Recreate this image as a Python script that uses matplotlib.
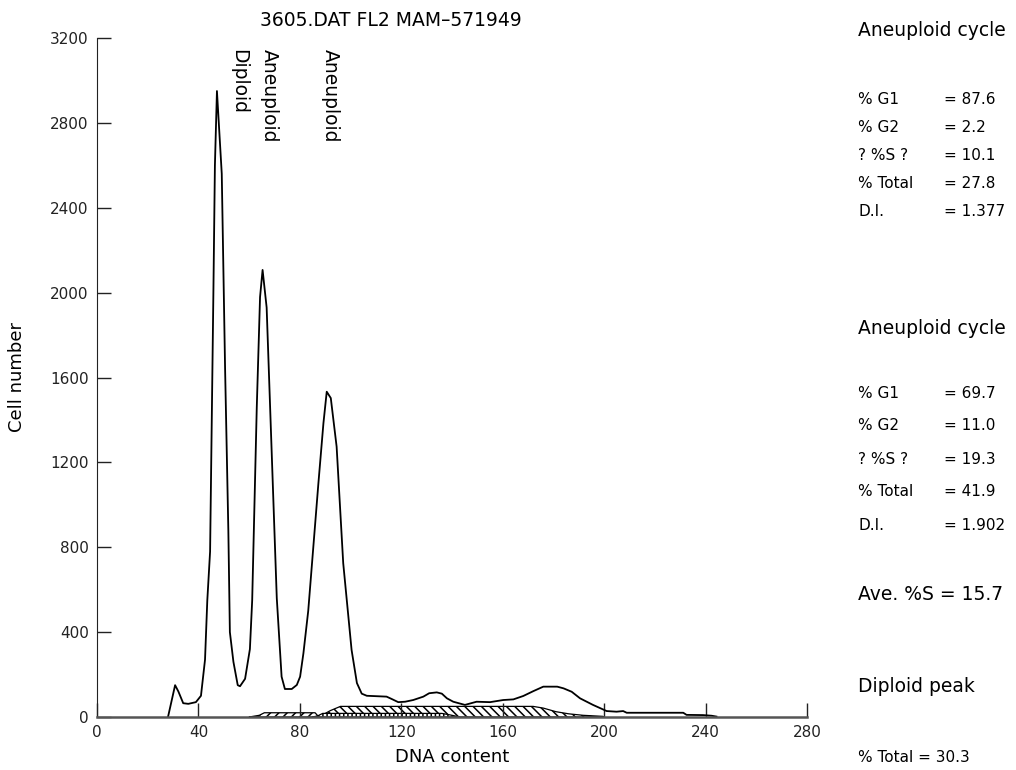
import numpy as np
import matplotlib.pyplot as plt

# histogramme ADN
dna_x = [28.0, 30.8, 32.1, 34.0, 36.0, 39.0, 41.0, 42.6, 43.5, 44.6, 45.9, 46.5, 47.3,
         49.2, 50.5, 51.8, 52.4, 53.8, 55.5, 56.4, 58.4, 60.3, 61.2, 63.0, 64.3, 65.3,
         66.9, 70.9, 72.8, 74.1, 76.8, 78.8, 80.1, 81.4, 83.3, 87.3, 89.3, 90.6, 92.2,
         94.5, 97.1, 100.4, 102.5, 104.4, 106.4, 114.2, 116.2, 118.8, 121.5, 124.7, 128.7,
         131.0, 134.0, 136.0, 138.0, 140.5, 145.1, 149.7, 155.0, 160.2, 164.2, 168.1, 172.1,
         176.0, 181.5, 184.0, 187.2, 190.5, 195.6, 199.7, 201.0, 204.9, 207.5, 208.9, 231.2,
         232.5, 239.0, 242.4, 244.3]
cell_n = [0, 150, 120, 65, 62, 70, 100, 270, 550, 780, 2000, 2600, 2950,
          2560, 1650, 877, 400, 260, 150, 145, 180, 320, 550, 1456, 1979, 2107,
          1930, 560, 190, 132, 132, 151, 190, 300, 500, 1100, 1385, 1533, 1503,
          1274, 725, 316, 160, 110, 100, 96, 85, 70, 72, 80, 96,
          112, 116, 110, 88, 72, 57, 72, 70, 80, 83, 99, 122,
          143, 143, 135, 119, 88, 57, 35, 28, 25, 28, 20, 20,
          10, 9, 6, 2]

# composantes hachurées
s1_x = [60, 62, 64, 66, 86, 87.5]
s1_y = [0, 4, 8, 20, 20, 0]
s2_x = [86, 89, 92, 96, 172, 176, 181, 186, 191.7, 199.5, 200]
s2_y = [0, 10, 30, 50, 50, 42, 25, 15, 8, 3, 0]
s3_x = [85, 87, 89, 136, 140, 143]
s3_y = [0, 5, 17, 17, 8, 0]

peak_labels = ["Diploid", "Aneuploid", "Aneuploid"]
peak_pos = [56, 68, 92]

x_ticks = [0, 40, 80, 120, 160, 200, 240, 280]
y_ticks = [0, 400, 800, 1200, 1600, 2000, 2400, 2800, 3200]

block1 = [("% G1", "= 87.6"), ("% G2", "= 2.2"), ("? %S ?", "= 10.1"),
          ("% Total", "= 27.8"), ("D.I.", "= 1.377")]
block2 = [("% G1", "= 69.7"), ("% G2", "= 11.0"), ("? %S ?", "= 19.3"),
          ("% Total", "= 41.9"), ("D.I.", "= 1.902")]

plt.rcParams['font.family'] = 'DejaVu Sans'
plt.rcParams['hatch.linewidth'] = 1.1

fig = plt.figure(figsize=(10.16, 7.7), dpi=100)
ax = fig.add_axes([97/1016, 53/770, 710/1016, 679/770])

ax.fill_between(s2_x, s2_y, color='white', hatch='\\\\\\\\', edgecolor='black', lw=0.9)
ax.fill_between(s1_x, s1_y, color='white', hatch='////', edgecolor='black', lw=0.9)
ax.fill_between(s3_x, s3_y, color='white', hatch='||||', edgecolor='black', lw=0.9)
ax.plot(dna_x, cell_n, color='black', lw=1.3)

for lab, xp in zip(peak_labels, peak_pos):
    ax.text(xp, 3150, lab, rotation=270, ha='center', va='top', fontsize=13.5)

ax.set_xlim(0, 280)
ax.set_ylim(0, 3200)
ax.set_xticks(x_ticks)
ax.set_yticks(y_ticks)
ax.tick_params(direction='in', length=10, width=1, labelsize=11, pad=6, colors='#222222')
ax.spines['top'].set_visible(False)
ax.spines['right'].set_visible(False)
ax.spines['left'].set_color('#222222')
ax.spines['bottom'].set_color('#555555')
ax.spines['bottom'].set_linewidth(1.8)
ax.set_xlabel("DNA content", fontsize=13)
ax.set_ylabel("Cell number", fontsize=13)
ax.xaxis.set_label_coords(0.5, -0.045)
ax.yaxis.set_label_coords(-0.1, 0.5)

fig.text(391/1016, 1 - 20/770, "3605.DAT FL2 MAM\u2013571949", ha='center', va='center', fontsize=13.5)

# texte à droite
xl, xv = 858/1016, 944/1016
def fy(py):
    return 1 - py/770

fig.text(xl, fy(30), "Aneuploid cycle", fontsize=13.5, va='center')
for (a, b), py in zip(block1, [99, 127, 156, 184, 212]):
    fig.text(xl, fy(py), a, fontsize=11, va='center')
    fig.text(xv, fy(py), b, fontsize=11, va='center')
fig.text(xl, fy(329), "Aneuploid cycle", fontsize=13.5, va='center')
for (a, b), py in zip(block2, [393, 425, 459, 492, 525]):
    fig.text(xl, fy(py), a, fontsize=11, va='center')
    fig.text(xv, fy(py), b, fontsize=11, va='center')
fig.text(xl, fy(595), "Ave. %S = 15.7", fontsize=13.5, va='center')
fig.text(xl, fy(687), "Diploid peak", fontsize=13.5, va='center')
fig.text(xl, fy(758), "% Total = 30.3", fontsize=11, va='center')

fig.savefig("out.png", dpi=100)
